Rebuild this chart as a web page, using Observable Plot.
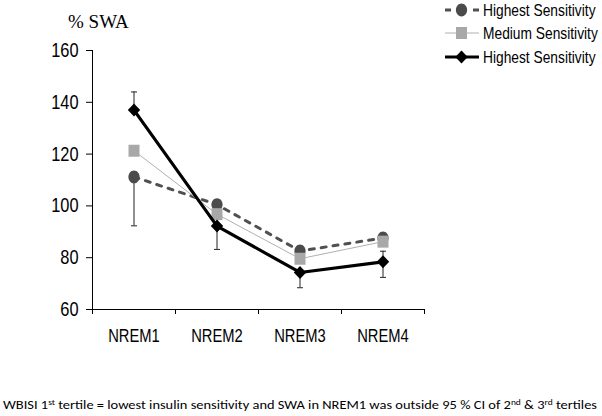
<!DOCTYPE html>
<html>
<head>
<meta charset="utf-8">
<script src="https://cdn.jsdelivr.net/npm/d3@7"></script>
<script src="https://cdn.jsdelivr.net/npm/@observablehq/plot@0.6"></script>
<style>
  html, body { margin: 0; padding: 0; background: #fff; }
  #chart { position: relative; width: 602px; height: 416px; }
</style>
</head>
<body>
<div id="chart"></div>
<script>
// ---- data ----
const categories = ["NREM1", "NREM2", "NREM3", "NREM4"];
const yTicks = [60, 80, 100, 120, 140, 160];
const seriesNames = ["Highest Sensitivity", "Medium Sensitivity", "Highest Sensitivity"];
const lowValues = [111.2, 100.5, 82.6, 87.6];      // dark circle, dashed
const mediumValues = [121.3, 96.8, 79.6, 86.2];   // grey square
const highValues = [137.0, 92.2, 74.3, 78.4];     // black diamond
// visible error bar ends (null = hidden)
const lowErrLower = [92.3, null, null, null];
const highErrUpper = [144.0, null, null, 82.5];
const highErrLower = [null, 83.2, 68.4, 72.4];
const caption = "WBISI 1st tertile = lowest insulin sensitivity and SWA in NREM1 was outside 95 % CI of 2nd & 3rd tertiles";

// ---- build tables ----
const toRows = (vals) => vals.map((v, i) => ({x: i + 0.5, y: v}));
const low = toRows(lowValues), med = toRows(mediumValues), high = toRows(highValues);
const errs = [];
categories.forEach((c, i) => {
  if (lowErrLower[i] != null) errs.push({x: i + 0.5, y1: lowValues[i], y2: lowErrLower[i]});
  if (highErrUpper[i] != null) errs.push({x: i + 0.5, y1: highValues[i], y2: highErrUpper[i]});
  if (highErrLower[i] != null) errs.push({x: i + 0.5, y1: highValues[i], y2: highErrLower[i]});
});

// ---- custom symbols ----
const diamondSym = {draw(c) { c.moveTo(0, -6.5); c.lineTo(6.2, 0); c.lineTo(0, 6.5); c.lineTo(-6.2, 0); c.closePath(); }};
const squareSym = {draw(c) { c.rect(-5.5, -6, 11, 12); }};
const ellipseSym = {draw(c) {
  const rx = 5.6, ry = 6.4, k = 0.5523;
  c.moveTo(rx, 0);
  c.bezierCurveTo(rx, ry * k, rx * k, ry, 0, ry);
  c.bezierCurveTo(-rx * k, ry, -rx, ry * k, -rx, 0);
  c.bezierCurveTo(-rx, -ry * k, -rx * k, -ry, 0, -ry);
  c.bezierCurveTo(rx * k, -ry, rx, -ry * k, rx, 0);
  c.closePath();
}};
const capSym = {draw(c) { c.moveTo(-3, 0); c.lineTo(3, 0); }};

const sans = "'Liberation Sans', Arial, sans-serif";
const SQ = 0.82; // horizontal condensing of Arial-like text

const plot = Plot.plot({
  width: 602,
  height: 416,
  marginLeft: 92,
  marginRight: 178,
  marginTop: 50,
  marginBottom: 107,
  style: {fontFamily: sans, color: "#000", background: "#fff", overflow: "visible"},
  x: {type: "linear", domain: [0, categories.length]},
  y: {domain: [yTicks[0], yTicks[yTicks.length - 1]]},
  marks: [
    Plot.axisY({ticks: yTicks, tickSize: 6, tickPadding: 8, fontSize: 20, label: null, stroke: "#000"}),
    Plot.axisX({ticks: d3.range(categories.length + 1), tickSize: 5, tickFormat: () => "", label: null, stroke: "#000"}),
    Plot.axisX({ticks: categories.map((c, i) => i + 0.5), tickSize: 0, tickPadding: 20, fontSize: 18,
      tickFormat: (d) => categories[Math.floor(d)], label: null}),
    Plot.ruleX([0], {y1: yTicks[0], y2: yTicks[yTicks.length - 1], stroke: "#000", strokeWidth: 1}),
    Plot.ruleY([yTicks[0]], {x1: 0, x2: categories.length, stroke: "#000", strokeWidth: 1}),
    // error bars
    Plot.ruleX(errs, {x: "x", y1: "y1", y2: "y2", stroke: "#222", strokeWidth: 1}),
    Plot.dot(errs, {x: "x", y: "y2", symbol: capSym, stroke: "#222", strokeWidth: 1, fill: "none"}),
    // low (dark circle, dashed)
    Plot.line(low, {x: "x", y: "y", stroke: "#505050", strokeWidth: 3, strokeDasharray: "5,7"}),
    Plot.dot(low, {x: "x", y: "y", symbol: ellipseSym, fill: "#4b4b4b", stroke: "none"}),
    // medium (grey square)
    Plot.line(med, {x: "x", y: "y", stroke: "#b0b0b0", strokeWidth: 1}),
    Plot.dot(med, {x: "x", y: "y", symbol: squareSym, fill: "#a8a8a8", stroke: "none"}),
    // high (black diamond)
    Plot.line(high, {x: "x", y: "y", stroke: "#000", strokeWidth: 3.2}),
    Plot.dot(high, {x: "x", y: "y", symbol: diamondSym, fill: "#000", stroke: "none"})
  ]
});
document.getElementById("chart").appendChild(plot);

const svg = d3.select(plot);
// condense tick label text horizontally around its anchor
svg.selectAll("g[aria-label='y-axis tick label'] text, g[aria-label='x-axis tick label'] text").each(function () {
  const t = this.getAttribute("transform") || "";
  this.setAttribute("transform", t + ` scale(${SQ},1)`);
});

// ---- annotations: y title, legend, caption ----
svg.append("text").attr("x", 68).attr("y", 28).attr("text-anchor", "start")
  .attr("font-family", "'Liberation Serif', 'Times New Roman', serif").attr("font-size", 19)
  .attr("fill", "#000").text("% SWA");

const legendRows = [
  {name: seriesNames[0], stroke: "#505050", width: 3, dash: "6,22", sym: ellipseSym, fill: "#4b4b4b", y: 10},
  {name: seriesNames[1], stroke: "#b0b0b0", width: 1, dash: null, sym: squareSym, fill: "#a8a8a8", y: 33},
  {name: seriesNames[2], stroke: "#000", width: 3.2, dash: null, sym: diamondSym, fill: "#000", y: 57}
];
const lg = svg.append("g");
legendRows.forEach((r) => {
  const g = lg.append("g").attr("transform", `translate(0,${r.y})`);
  g.append("line").attr("x1", 445).attr("x2", 479).attr("y1", 0).attr("y2", 0)
    .attr("stroke", r.stroke).attr("stroke-width", r.width)
    .attr("stroke-dasharray", r.dash);
  g.append("path").attr("transform", "translate(461.5,0)")
    .attr("d", d3.symbol(r.sym)()).attr("fill", r.fill);
  g.append("text").attr("transform", `translate(483,0) scale(${SQ},1)`).attr("dy", "0.36em")
    .attr("text-anchor", "start")
    .attr("font-family", sans).attr("font-size", 16.8).attr("fill", "#000").text(r.name);
});

const cap = svg.append("text").attr("x", 3).attr("y", 409).attr("text-anchor", "start")
  .attr("font-family", "Carlito, Lato, 'Liberation Sans', sans-serif").attr("font-size", 12.2)
  .attr("fill", "#000").attr("textLength", 594).attr("lengthAdjust", "spacingAndGlyphs");
const parts = caption.split(/(?<=\d)(st|nd|rd)(?=\s)/);
parts.forEach((p) => {
  if (p === "st" || p === "nd" || p === "rd") {
    cap.append("tspan").attr("font-size", 8).attr("dy", -4).text(p);
  } else {
    const prev = cap.node().lastChild;
    const sp = cap.append("tspan").text(p);
    if (prev && /^(st|nd|rd)$/.test(prev.textContent)) sp.attr("dy", 4);
  }
});
</script>
</body>
</html>
